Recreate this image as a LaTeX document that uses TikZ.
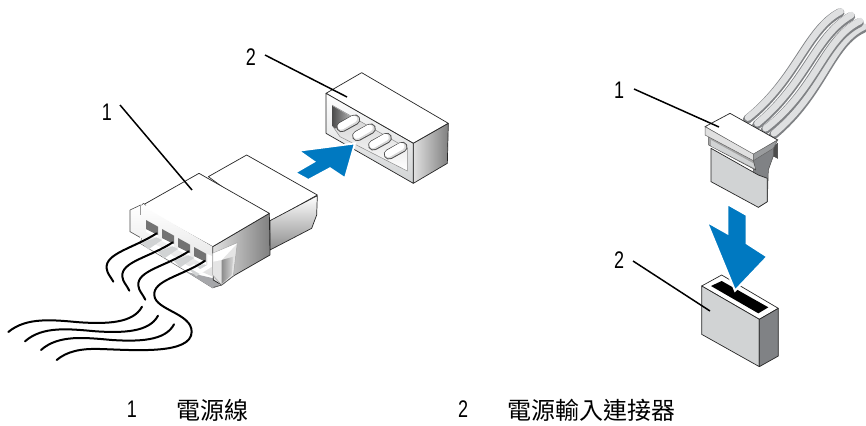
\documentclass[tikz,border=0pt]{standalone}
\usepackage{fontspec}
\setmainfont{Liberation Sans}
\newfontfamily\cjk{Noto Sans CJK TC}
\definecolor{dellblue}{HTML}{0079C1}
\definecolor{lg}{HTML}{D1D3D4}
\definecolor{mg}{HTML}{808285}
\tikzset{
 edge/.style={draw=black!85,line width=0.7pt,line join=round},
 leader/.style={draw=black,line width=1.5pt},
 num/.style={font=\fontsize{24}{24}\selectfont,xscale=0.75,inner sep=0pt},
 zh/.style={font=\cjk\fontsize{24}{24}\selectfont,inner sep=0pt,anchor=west},
 wire/.style={draw=black,line width=2pt,line cap=round},
 cable/.style={draw=mg,line width=9pt,line cap=round},
 cablein/.style={draw=lg!70!white,line width=6.5pt,line cap=round},
}
\begin{document}
\begin{tikzpicture}[x=1pt,y=-1pt]
\useasboundingbox (0,0) rectangle (866,425);
\fill[white] (0,0) rectangle (866,425);

% ---- left plug, rear piece and body
\begin{scope}[shift={(0,150)},scale=1/3]
\path[fill=white,edge] (625,80)--(740,15)--(952,135)--(810,215)--cycle;
\path[edge,top color=white,bottom color=black!45] (810,212)--(952,137)--(950,195)--(935,235)--(810,300)--cycle;
% lower block behind slots
\path[fill=white,draw=black!60,line width=0.5pt] (420,280)--(560,365)--(638,414)--(665,405)--(640,300)--(440,220)--cycle;
\path[fill=mg!70!white] (560,366)--(638,414)--(660,405)--(640,385)--cycle;
% right side
\path[edge,left color=black!12,right color=black!50] (638,290)--(808,190)--(810,315)--(700,378)--(665,405)--(640,390)--cycle;
% top
\path[fill=white,edge] (420,170)--(597,70)--(808,190)--(638,290)--cycle;
\path[draw=black!70,line width=0.5pt,fill=white] (420,170)--(430,160)--(438,166);
% front strip
\path[top color=white,bottom color=black!12] (390,180)--(422,165)--(638,290)--(638,380)--(560,345)--(480,290)--(420,262)--(390,245)--cycle;
\path[draw=black!70,line width=0.6pt] (390,180)--(422,165) (390,180)--(390,245)--(420,262);
\path[draw=black!40,line width=0.5pt] (422,165)--(422,195);
% slots
\foreach \d in {0,1,2,3}{
 \begin{scope}[shift={(\d*48,\d*27)}]
 \path[fill=black!55] (438,210)--(474,230)--(474,256)--(438,238)--cycle;
 \path[fill=white] (438,238)--(474,256)--(474,266)--(438,246)--cycle;
 \path[fill=lg] (425,278)--(470,262)--(486,270)--(445,298)--cycle;
 \end{scope}}
\path[fill=white] (582,342)--(600,358)--(622,345)--(622,312)--(636,318)--(636,350)--(600,372)--(565,352)--cycle;
% tab
\path[fill=black!10,draw=black!35,line width=0.5pt] (638,310)--(712,278)--(700,378)--(665,405)--(638,375)--cycle;
\path[left color=black!45,right color=black!15] (665,330)--(700,320)--(695,375)--(665,402)--cycle;
\path[fill=white] (640,310)--(712,280)--(665,330)--(640,335)--cycle;
\path[draw=black!70,line width=0.5pt] (638,290)--(638,310) (640,412)--(665,405)--(700,378);
% wires
\path[wire] (470,250) .. controls (400,295) and (315,310) .. (320,355) .. controls (322,372) and (332,380) .. (340,395);
\path[wire] (518,277) .. controls (450,322) and (362,335) .. (367,380) .. controls (369,397) and (380,405) .. (388,422);
\path[wire] (566,304) .. controls (498,349) and (410,362) .. (415,407) .. controls (417,424) and (428,432) .. (436,449);
\path[wire] (614,333) .. controls (546,378) and (458,391) .. (463,436) .. controls (466,480) and (575,490) .. (575,545) .. controls (575,615) and (400,600) .. (300,597) .. controls (240,595) and (200,605) .. (170,630);
\path[wire] (426,470) .. controls (400,520) and (320,522) .. (240,517) .. controls (160,510) and (80,500) .. (25,546);
\path[wire] (474,497) .. controls (448,547) and (368,549) .. (288,544) .. controls (208,537) and (128,527) .. (75,574);
\path[wire] (522,523) .. controls (496,573) and (416,575) .. (336,570) .. controls (256,563) and (176,553) .. (123,600);
\end{scope}

% ---- left socket
\begin{scope}[shift={(240,30)},scale=1/3]
\path[fill=white,edge] (258,190)--(365,128)--(625,280)--(520,340)--cycle;
\path[edge,left color=black!12,right color=black!50] (520,340)--(625,280)--(622,400)--(520,460)--cycle;
\path[edge,top color=white,bottom color=lg] (258,190)--(520,340)--(520,460)--(258,310)--cycle;
\path[top color=black!20,bottom color=white,draw=black!45,line width=0.5pt] (277,226)--(502,355)--(502,423)--(300,320)--(277,287)--cycle;
\path[left color=black!70,right color=black!25] (277,228)--(340,264)--(320,295)--(285,295)--(277,287)--cycle;
\foreach \x/\y in {325/280,372/307,420/335,467/362}{
 \path[draw=black!70,line width=10.5pt,line cap=round] (\x-20,\y+11)--(\x+20,\y-11);
 \path[draw=black!15,line width=8.5pt,line cap=round] (\x-20,\y+11)--(\x+20,\y-11);
 \path[draw=white,line width=7pt,line cap=round] (\x-22,\y+9)--(\x+16,\y-13);
}
\path[draw=white,line width=2pt,fill=dellblue,line join=miter] (175,362)--(345,340)--(315,445)--(270,415)--(205,450)--(165,428)--(222,395)--cycle;
\end{scope}

% ---- right plug
\begin{scope}[shift={(610,0)},scale=1/3]
\path[cable] (760,85) .. controls (660,130) and (640,280) .. (490,405);
\path[cablein] (762,80) .. controls (662,125) and (642,275) .. (492,400);
\path[cable] (748,68) .. controls (640,120) and (620,270) .. (465,390);
\path[cablein] (750,63) .. controls (642,115) and (622,265) .. (467,385);
\path[cable] (722,50) .. controls (615,110) and (590,250) .. (440,375);
\path[cablein] (724,45) .. controls (617,105) and (592,245) .. (442,370);
\path[cable] (690,38) .. controls (590,90) and (560,240) .. (412,358);
\path[cablein] (692,34) .. controls (592,85) and (562,235) .. (414,353);
% back tab and tongue
\path[fill=mg,draw=black!70,line width=0.5pt] (430,480)--(503,430)--(503,475)--(490,468)--(475,510)--(472,605)--(445,622)--(430,510)--cycle;
\path[fill=black!70] (490,440)--(503,430)--(503,475)--(490,468)--cycle;
\path[fill=lg,edge] (303,445)--(445,525)--(472,535)--(472,605)--(445,622)--(303,545)--cycle;
\path[fill=black!35,draw=black!70,line width=0.5pt] (296,410)--(430,480)--(437,510)--(296,435)--cycle;
\path[fill=lg] (303,420)--(430,490)--(435,505)--(303,438)--cycle;
% top
\path[fill=white,edge] (285,380)--(360,340)--(503,420)--(430,465)--cycle;
\path[fill=black!12,draw=black!60,line width=0.5pt] (285,380)--(430,462)--(430,482)--(285,405)--cycle;
\path[fill=mg!80!white,draw=black!60,line width=0.5pt] (430,462)--(503,420)--(490,445)--(430,482)--cycle;
\end{scope}

% ---- right socket
\begin{scope}[shift={(610,200)},scale=1/3]
\path[fill=white,edge] (275,258)--(335,225)--(505,325)--(448,358)--cycle;
\path[fill=black] (303,258)--(335,243)--(475,322)--(445,340)--cycle;
\path[fill=lg,edge] (275,258)--(448,358)--(448,500)--(275,403)--cycle;
\path[fill=mg,edge] (448,358)--(505,325)--(505,468)--(448,500)--cycle;
\path[draw=white,line width=2pt,fill=dellblue,line join=miter] (352,12)--(410,45)--(410,130)--(472,170)--(375,272)--(290,65)--(352,100)--cycle;
\end{scope}

% ---- labels
\node[num] (a1) at (107,112) {1};
\node[num] (a2) at (251,57) {2};
\node[num] (b1) at (619,90) {1};
\node[num] (b2) at (619,260) {2};
\coordinate (a1t) at (192,190);
\coordinate (a2t) at (347,97);
\coordinate (b1t) at (719,127);
\coordinate (b2t) at (710,311);
\draw[leader] (120,105)--(a1t);
\draw[leader] (265,55)--(a2t);
\draw[leader] (634,89)--(b1t);
\draw[leader] (633,261)--(b2t);

\node[num] (k1) at (132,409) {1};
\node[zh] (t1) at (176,410) {電源線};
\node[num] (k2) at (463,409) {2};
\node[zh] (t2) at (507,410) {電源輸入連接器};
\end{tikzpicture}
\end{document}
